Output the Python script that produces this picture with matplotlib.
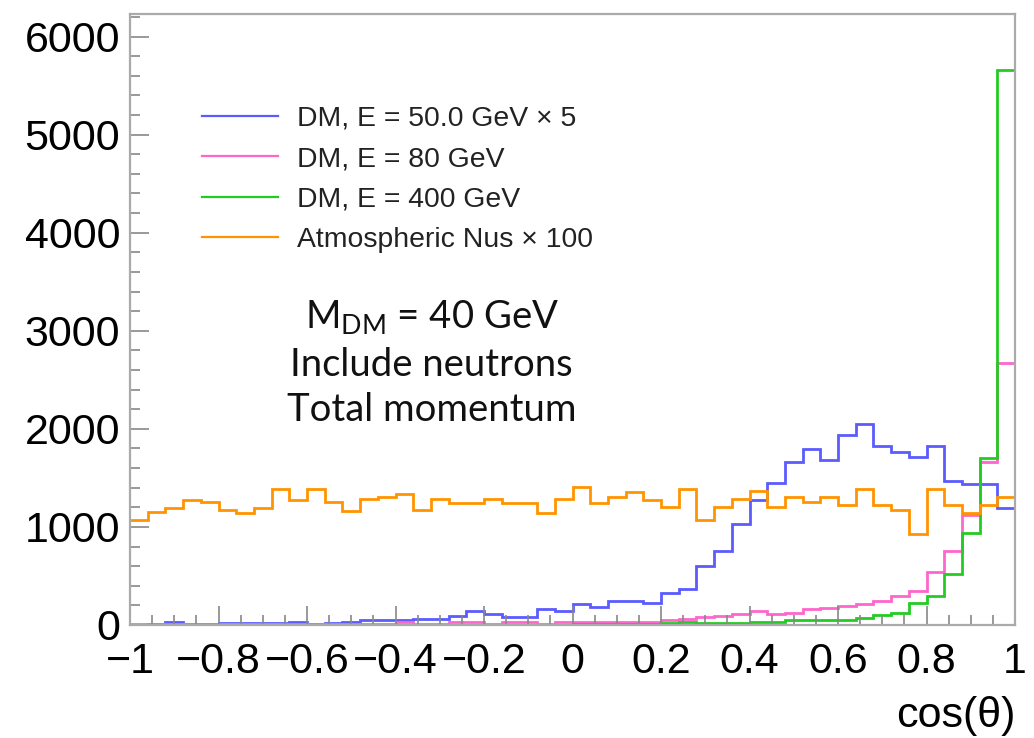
import numpy as np
import matplotlib.pyplot as plt
from matplotlib.ticker import MultipleLocator

# 50 Bins in cos(theta) von -1 bis 1
edges = np.linspace(-1, 1, 51)

dm50_x5 = [5, 10, 27, 15, 15, 24, 24, 24, 20, 27,
           15, 24, 30, 51, 51, 51, 60, 60, 92, 140,
           110, 85, 80, 165, 146, 214, 187, 240, 240, 225,
           328, 370, 602, 758, 1031, 1276, 1446, 1667, 1796, 1684,
           1939, 2048, 1827, 1769, 1711, 1830, 1469, 1439, 1439, 1197]

dm80 = [6, 8, 8, 6, 8, 8, 10, 8, 8, 10,
        8, 10, 10, 12, 12, 27, 15, 15, 27, 27,
        15, 27, 27, 15, 27, 27, 27, 27, 27, 27,
        51, 60, 80, 92, 115, 140, 112, 126, 160, 173,
        194, 214, 245, 296, 350, 544, 758, 1122, 1667, 2673]

dm400 = [4, 4, 4, 4, 4, 4, 4, 4, 4, 4,
         4, 4, 4, 4, 4, 4, 4, 4, 4, 4,
         5, 5, 5, 5, 5, 6, 6, 8, 8, 10,
         24, 30, 24, 24, 24, 34, 34, 51, 51, 51,
         51, 68, 102, 126, 221, 299, 520, 935, 1707, 5663]

atm_x100 = [1070, 1156, 1197, 1276, 1252, 1173, 1146, 1197, 1388, 1276,
            1388, 1252, 1166, 1282, 1309, 1340, 1170, 1282, 1248, 1248,
            1289, 1248, 1248, 1139, 1282, 1412, 1248, 1309, 1361, 1276,
            1207, 1390, 1066, 1201, 1286, 1367, 1201, 1309, 1252, 1303,
            1224, 1388, 1224, 1173, 929, 1388, 1224, 1139, 1224, 1303]

labels = ['DM, E = 50.0 GeV \u00d7 5', 'DM, E = 80 GeV',
          'DM, E = 400 GeV', 'Atmospheric Nus \u00d7 100']
colors = ['#5b5bff', '#ff66cc', '#22cc22', '#ff9400']
xticks = [-1, -0.8, -0.6, -0.4, -0.2, 0, 0.2, 0.4, 0.6, 0.8, 1]
xticklabels = ['\u22121', '\u22120.8', '\u22120.6', '\u22120.4', '\u22120.2',
               '0', '0.2', '0.4', '0.6', '0.8', '1']

plt.rcParams['font.family'] = ['Liberation Sans', 'DejaVu Sans']

fig = plt.figure(figsize=(10.34, 7.38), dpi=100)
ax = fig.add_axes([130 / 1034, 1 - 625 / 738, 885 / 1034, 611 / 738])

for vals, col, lab in zip([dm50_x5, dm80, dm400, atm_x100], colors, labels):
    ax.stairs(vals, edges, baseline=None, color=col, lw=2.0, label=lab)

ax.set_xlim(-1, 1)
ax.set_ylim(0, 6230)

# ROOT-Stil: graue Rahmen, Ticks nach innen
for s in ax.spines.values():
    s.set_color('#aaaaaa')
    s.set_linewidth(1.6)
ax.set_xticks(xticks)
ax.set_xticklabels(xticklabels)
ax.xaxis.set_minor_locator(MultipleLocator(0.05))
ax.yaxis.set_major_locator(MultipleLocator(1000))
ax.yaxis.set_minor_locator(MultipleLocator(200))
ax.tick_params(which='both', direction='in', color='#888888', width=1.2,
               labelsize=31, top=False, right=False)
ax.tick_params(which='major', length=14)
ax.tick_params(which='minor', length=7)
ax.tick_params(axis='x', pad=12)
ax.tick_params(axis='y', pad=7)
ax.set_xlabel('cos(\u03b8)', fontsize=31, loc='right', labelpad=10)

leg = ax.legend(loc='upper left', bbox_to_anchor=(0.081, 0.85), frameon=False,
                fontsize=20.4, handlelength=2.68, handletextpad=0.67,
                labelspacing=0.51, borderpad=0, borderaxespad=0)
for line in leg.get_lines():
    line.set_linewidth(1.6)
for t in leg.get_texts():
    t.set_color('#222222')

ax.text(0.341, 0.428,
        'M$_{\\mathregular{DM}}$ = 40 GeV\nInclude neutrons\nTotal momentum',
        transform=ax.transAxes, ha='center', va='center', fontsize=27.5,
        family=['Lato', 'DejaVu Sans'], linespacing=1.32, color='#111111')

fig.savefig('out.png', dpi=100)
